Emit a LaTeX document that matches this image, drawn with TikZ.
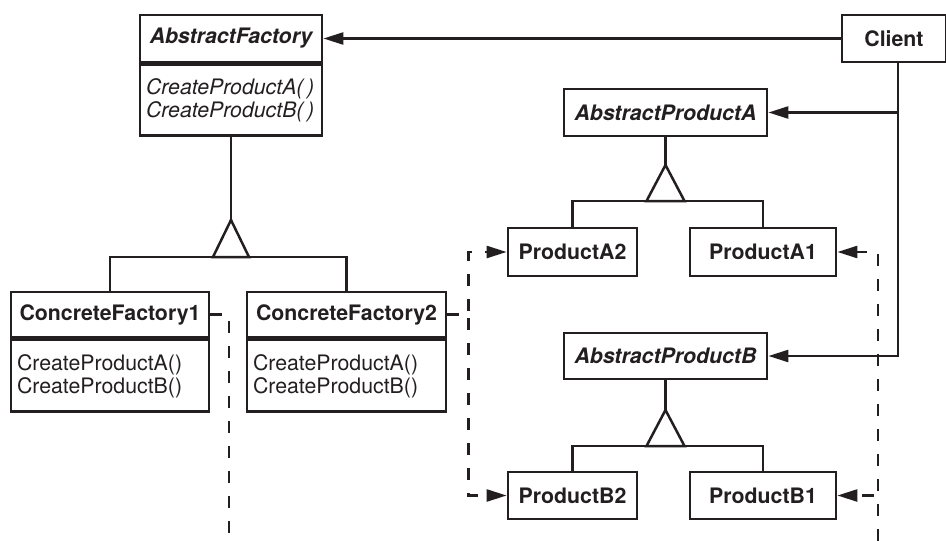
\documentclass[tikz,border=0pt]{standalone}
\usepackage{tikz}
\usepackage{xcolor}
\usepackage{fontspec}
\setmainfont{TeX Gyre Heros}
\usetikzlibrary{shapes,arrows.meta,positioning}
\definecolor{ink}{RGB}{35,31,32}
\tikzstyle{line} = [draw=ink, line width=2.5pt, -{Triangle[length=20pt,width=12pt]}]
\tikzstyle{link} = [draw=ink, line width=2.5pt]
\tikzstyle{dep} = [draw=ink, line width=2.5pt, dash pattern=on 12pt off 13pt]

\begin{document}
\begin{tikzpicture}[x=1pt, y=-1pt, node distance=0pt,
    class/.style={rectangle, draw=ink, text=ink, line width=2.8pt, font=\bfseries, text centered, inner sep=0pt, minimum height=47pt},
    abstract/.style={class, font=\bfseries\itshape},
    ops/.style={rectangle, draw=ink, text=ink, line width=2.8pt, align=left, inner xsep=6pt, inner ysep=0pt, minimum height=72pt}]
        \fontsize{21.3}{23}\selectfont
        \useasboundingbox (0,0) rectangle (946,541);
        \node[abstract, minimum width=182pt] (AbstractFactory) at (231,38.5) {AbstractFactory};
        \node[ops, below=of AbstractFactory, text width=170pt, font=\itshape, minimum height=71pt] (AbstractFactoryOps) {CreateProductA(\,)\\CreateProductB(\,)};
        \node[class, minimum width=104pt] (Client) at (894,38.5) {Client};
        \node[class, minimum width=198pt, minimum height=45pt] (ConcreteFactory1) at (110,314.5) {ConcreteFactory1};
        \node[ops, below=of ConcreteFactory1, text width=186pt] (ConcreteFactory1Ops) {CreateProductA()\\CreateProductB()};
        \node[class, minimum width=199pt, minimum height=45pt] (ConcreteFactory2) at (346.5,314.5) {ConcreteFactory2};
        \node[ops, below=of ConcreteFactory2, text width=187pt] (ConcreteFactory2Ops) {CreateProductA()\\CreateProductB()};
        \node[abstract, minimum width=203pt] (AbstractProductA) at (665.5,112.5) {AbstractProductA};
        \node[class, minimum width=129pt, minimum height=48pt] (ProductA2) at (572.5,252) {ProductA2};
        \node[class, minimum width=146pt, minimum height=48pt] (ProductA1) at (763,252) {ProductA1};
        \node[abstract, minimum width=203pt, minimum height=46pt] (AbstractProductB) at (665.5,356) {AbstractProductB};
        \node[class, minimum width=129pt] (ProductB2) at (572.5,495.5) {ProductB2};
        \node[class, minimum width=146pt] (ProductB1) at (763,495.5) {ProductB1};

        \coordinate (genFactory) at (231,257);
        \coordinate (genA) at (665.5,201);
        \coordinate (genB) at (665.5,446);
        \coordinate (cf1Down) at (229,541);
        \coordinate (cf1Up) at (878,541);

        \path [link] ([xshift=-18pt]genFactory) -- ([yshift=37pt]genFactory) -- ([xshift=18pt]genFactory) -- cycle;
        \path [link] ([xshift=-19pt]genA) -- ([yshift=36pt]genA) -- ([xshift=19pt]genA) -- cycle;
        \path [link] ([xshift=-19pt]genB) -- ([yshift=36pt]genB) -- ([xshift=19pt]genB) -- cycle;
        \path [link] (AbstractFactoryOps.south) -- ([yshift=37pt]genFactory);
        \path [link] (AbstractProductA.south) -- ([yshift=36pt]genA);
        \path [link] (AbstractProductB.south) -- ([yshift=36pt]genB);
        \path [link] (ConcreteFactory1.north) |- (genFactory) -| (ConcreteFactory2.north);
        \path [link] (ProductA2.north) |- (genA) -| (ProductA1.north);
        \path [link] (ProductB2.north) |- (genB) -| (ProductB1.north);

        \path [line] (Client) -- (AbstractFactory);
        \path [line] ([xshift=4pt]Client.south) |- (AbstractProductA);
        \path [line] ([xshift=4pt]Client.south) |- (AbstractProductB);

        \path [dep] (ConcreteFactory1.east) -| (cf1Down);
        \path [dep, line] (cf1Up) |- (ProductA1.east);
        \path [dep, line] (cf1Up) |- (ProductB1.east);
        \path [dep, line] (ConcreteFactory2.east) -| ([xshift=-38pt]ProductA2.west) -- (ProductA2.west);
        \path [dep, line] (ConcreteFactory2.east) -| ([xshift=-38pt]ProductB2.west) -- (ProductB2.west);
    \end{tikzpicture}
\end{document}
